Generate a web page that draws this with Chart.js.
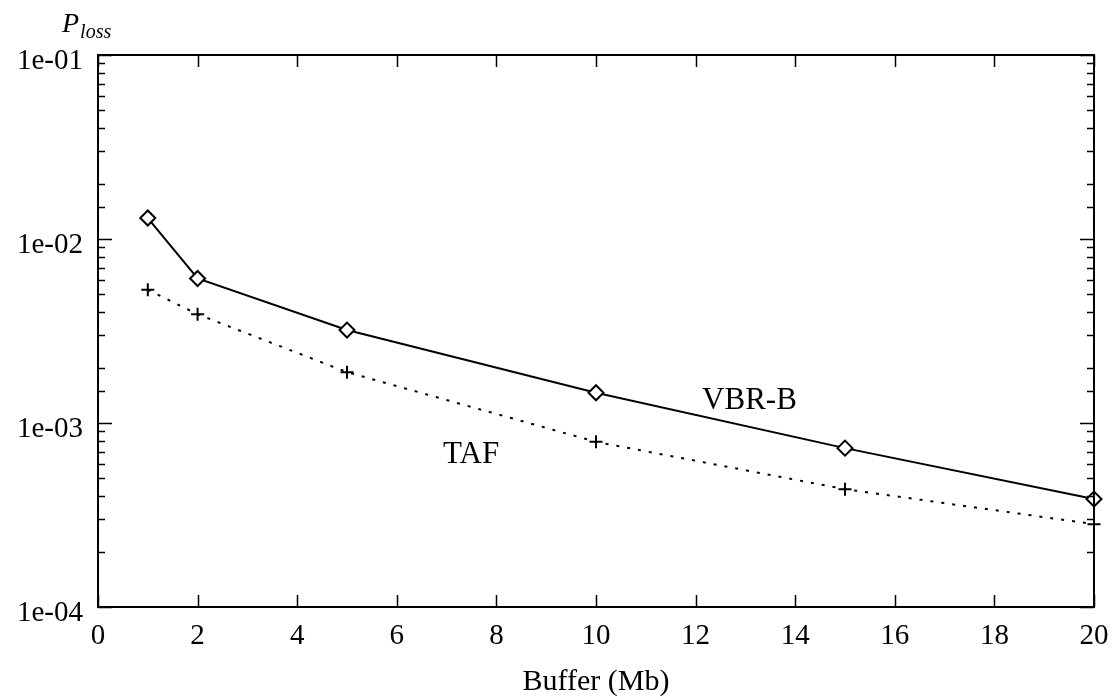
<!DOCTYPE html>
<html>
<head>
<meta charset="utf-8">
<script src="https://cdn.jsdelivr.net/npm/chart.js@4"></script>
<style>
  html, body { margin: 0; padding: 0; background: #fff; }
</style>
</head>
<body>
<canvas id="lossChart" width="1114" height="700"></canvas>
<script>
const bufferSizes = [1, 2, 5, 10, 15, 20];
const vbrLoss = [0.0130, 0.0061, 0.0032, 0.00146, 0.00073, 0.000386];
const tafLoss = [0.0053, 0.0039, 0.00189, 0.00079, 0.000437, 0.000282];
const xTickValues = [0, 2, 4, 6, 8, 10, 12, 14, 16, 18, 20];
const yDecades = [1e-4, 1e-3, 1e-2, 1e-1];
const yTickLabels = ['1e-04', '1e-03', '1e-02', '1e-01'];
const seriesNames = ['VBR-B', 'TAF'];

const serif = "'Liberation Serif', 'Times New Roman', serif";

function toPoints(values) {
    return bufferSizes.map((b, i) => ({ x: b, y: values[i] }));
}

function decadeIndex(v) {
    for (let i = 0; i < yDecades.length; i++) {
        if (Math.abs(v / yDecades[i] - 1) < 1e-6) return i;
    }
    return -1;
}

// frame with inward ticks on all four sides, plus the curve names and y title
const framePlugin = {
    id: 'frame',
    afterDatasetsDraw(chart) {
        const ctx = chart.ctx;
        const area = chart.chartArea;
        const xs = chart.scales.x;
        const ys = chart.scales.y;
        ctx.save();
        ctx.strokeStyle = '#000';
        ctx.lineWidth = 2;
        ctx.strokeRect(area.left, area.top, area.right - area.left, area.bottom - area.top);

        ctx.lineWidth = 1.5;
        ctx.beginPath();
        for (const v of xTickValues) {
            const px = Math.round(xs.getPixelForValue(v)) + 0.5;
            ctx.moveTo(px, area.bottom);
            ctx.lineTo(px, area.bottom - 12);
            ctx.moveTo(px, area.top);
            ctx.lineTo(px, area.top + 12);
        }
        for (const t of ys.ticks) {
            const py = Math.round(ys.getPixelForValue(t.value)) + 0.5;
            const len = decadeIndex(t.value) >= 0 ? 14 : 7;
            ctx.moveTo(area.left, py);
            ctx.lineTo(area.left + len, py);
            ctx.moveTo(area.right, py);
            ctx.lineTo(area.right - len, py);
        }
        ctx.stroke();

        // curve names
        ctx.fillStyle = '#000';
        ctx.font = '31px ' + serif;
        ctx.textAlign = 'left';
        ctx.textBaseline = 'alphabetic';
        ctx.fillText(seriesNames[0], xs.getPixelForValue(12.13), ys.getPixelForValue(1.19e-3));
        ctx.fillText(seriesNames[1], xs.getPixelForValue(6.93), ys.getPixelForValue(6.07e-4));

        // y axis title: P with subscript "loss"
        ctx.font = 'italic 28px ' + serif;
        ctx.fillText('P', area.left - 36, area.top - 23);
        const pw = ctx.measureText('P').width;
        ctx.font = 'italic 20px ' + serif;
        ctx.fillText('loss', area.left - 36 + pw + 1, area.top - 17);
        ctx.restore();
    }
};

const ctx = document.getElementById('lossChart').getContext('2d');
const lossChart = new Chart(ctx, {
    type: 'line',
    data: {
        datasets: [{
            label: seriesNames[0],
            data: toPoints(vbrLoss),
            borderColor: '#000',
            borderWidth: 2,
            pointStyle: 'rectRot',
            pointRadius: 7.5,
            pointBorderWidth: 2,
            pointBackgroundColor: '#fff',
            pointBorderColor: '#000',
            tension: 0,
            clip: false
        }, {
            label: seriesNames[1],
            data: toPoints(tafLoss),
            borderColor: '#000',
            borderWidth: 2,
            borderDash: [3, 8],
            pointStyle: 'cross',
            pointRadius: 6.5,
            pointBorderWidth: 2,
            pointBorderColor: '#000',
            tension: 0,
            clip: false
        }]
    },
    options: {
        responsive: false,
        animation: false,
        layout: { padding: { top: 55, right: 20, left: 0, bottom: 0 } },
        plugins: {
            legend: { display: false },
            tooltip: { enabled: false }
        },
        scales: {
            x: {
                type: 'linear',
                min: 0,
                max: 20,
                grid: { display: false, drawTicks: false },
                border: { display: false },
                ticks: {
                    stepSize: 2,
                    padding: 12,
                    color: '#000',
                    font: { family: serif, size: 29 }
                },
                title: {
                    display: true,
                    text: 'Buffer (Mb)',
                    color: '#000',
                    font: { family: serif, size: 30 },
                    padding: { top: 0, bottom: 0 }
                },
                afterFit(s) {
                    s.height = 93;
                    s.paddingLeft = 0;
                    s.paddingRight = 0;
                }
            },
            y: {
                type: 'logarithmic',
                min: 1e-4,
                max: 1e-1,
                grid: { display: false, drawTicks: false },
                border: { display: false },
                ticks: {
                    autoSkip: false,
                    padding: 15,
                    labelOffset: 6,
                    color: '#000',
                    font: { family: serif, size: 29 },
                    callback(value) {
                        const i = decadeIndex(value);
                        return i >= 0 ? yTickLabels[i] : '';
                    }
                },
                afterFit(s) {
                    s.width = 98;
                    s.paddingTop = 0;
                    s.paddingBottom = 0;
                }
            }
        }
    },
    plugins: [framePlugin]
});
</script>
</body>
</html>
